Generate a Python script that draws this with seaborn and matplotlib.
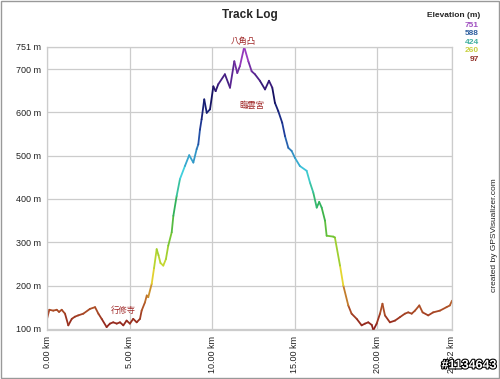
import pandas as pd
import matplotlib.pyplot as plt
import seaborn as sns
import numpy as np
import matplotlib.patheffects as pe
from matplotlib.colors import LinearSegmentedColormap

# distance along track (km) and elevation (m)
dist_km = [0.00, 0.14, 0.38, 0.59, 0.73, 0.89, 1.09, 1.29, 1.50, 1.69, 1.89, 2.20, 2.60, 2.91,
           3.11, 3.31, 3.61, 3.81, 4.01, 4.22, 4.42, 4.62, 4.82, 5.02, 5.22, 5.43, 5.63, 5.73,
           5.93, 6.04, 6.13, 6.34, 6.48, 6.64, 6.75, 6.87, 7.04, 7.20, 7.34, 7.55, 7.65, 7.85,
           8.05, 8.35, 8.61, 8.86, 9.06, 9.16, 9.26, 9.36, 9.52, 9.67, 9.87, 10.07, 10.21, 10.37,
           10.77, 11.08, 11.34, 11.52, 11.68, 11.94, 12.19, 12.39, 12.59, 12.89, 13.20, 13.44,
           13.64, 13.80, 14.00, 14.24, 14.41, 14.61, 14.81, 15.01, 15.31, 15.72, 15.92, 16.12,
           16.33, 16.48, 16.63, 16.83, 16.93, 17.33, 17.43, 17.74, 17.94, 18.24, 18.44, 18.75,
           19.05, 19.25, 19.45, 19.66, 19.76, 19.96, 20.16, 20.31, 20.46, 20.76, 21.07, 21.37,
           21.67, 21.87, 22.08, 22.28, 22.54, 22.74, 23.08, 23.38, 23.79, 24.19, 24.39, 24.52]
elev_m = [123, 144, 142, 144, 139, 144, 135, 108, 123, 128, 131, 135, 146, 150,
          135, 123, 104, 112, 115, 112, 115, 108, 119, 112, 123, 115, 123, 142,
          161, 177, 173, 204, 240, 284, 270, 252, 246, 261, 292, 323, 361, 407,
          446, 476, 501, 484, 515, 526, 560, 584, 630, 599, 607, 660, 649, 665,
          688, 657, 718, 691, 707, 751, 718, 695, 688, 673, 653, 673,
          657, 622, 603, 576, 545, 518, 511, 495, 476, 465, 438, 415,
          380, 393, 380, 350, 315, 313, 311, 246, 200, 154, 135, 123,
          108, 112, 115, 109, 97, 112, 135, 158, 131, 115, 119, 127,
          135, 138, 135, 142, 154, 138, 131, 138, 142, 150, 154, 165]

x_ticks = [0, 5, 10, 15, 20, 24.52]
x_labels = ["0.00 km", "5.00 km", "10.00 km", "15.00 km", "20.00 km", "24.52 km"]
y_ticks = [100, 200, 300, 400, 500, 600, 700, 751]
y_labels = ["100 m", "200 m", "300 m", "400 m", "500 m", "600 m", "700 m", "751 m"]
legend_vals = ["751", "588", "424", "260", "97"]
legend_cols = ["#a050c0", "#3060a0", "#40b0a0", "#c8d040", "#903028"]

cmap = LinearSegmentedColormap.from_list("elev", [
    (0.00, "#8b1a1a"), (0.10, "#b8602a"), (0.20, "#e8e030"), (0.31, "#80c830"),
    (0.43, "#30b050"), (0.56, "#40d0e0"), (0.70, "#2040a0"), (0.83, "#141060"),
    (1.00, "#b040d0")])

# one short piece per pair of points so the colour follows elevation
rows = []
for i in range(len(dist_km) - 1):
    c = (elev_m[i] + elev_m[i + 1]) / 2
    rows.append((i, dist_km[i], elev_m[i], c))
    rows.append((i, dist_km[i + 1], elev_m[i + 1], c))
df = pd.DataFrame(rows, columns=["seg", "km", "m", "c"])

sns.set_style("white")
plt.rcParams['font.family'] = ['Liberation Sans', 'Noto Sans CJK TC', 'DejaVu Sans']

fig = plt.figure(figsize=(5, 3.79), dpi=100)
ax = fig.add_axes([0.094, 0.129, 0.81, 0.747])

sns.lineplot(data=df, x="km", y="m", hue="c", units="seg", estimator=None,
             palette=cmap, hue_norm=(97, 751), legend=False, lw=1.3,
             solid_capstyle="round", ax=ax)

ax.set_xlim(0, 24.52)
ax.set_ylim(97, 751)
ax.set_xticks(x_ticks)
ax.set_xticklabels(x_labels, rotation=90, fontsize=6.5, color="#222222")
ax.set_yticks(y_ticks)
ax.set_yticklabels(y_labels, fontsize=6.5, color="#222222")
ax.tick_params(length=0, pad=4)
ax.set_xlabel("")
ax.set_ylabel("")
ax.grid(True, color="#cccccc", lw=0.9)
for s in ax.spines.values():
    s.set_color("#cccccc")
    s.set_linewidth(0.9)

fig.text(0.5, 0.975, "Track Log", ha="center", va="top", fontsize=8.5, fontweight="bold")
fig.text(0.96, 0.958, "Elevation (m)", ha="right", va="center", fontsize=6, fontweight="bold")
for k, (v, c) in enumerate(zip(legend_vals, legend_cols)):
    fig.text(0.958, 0.934 - k * 0.0225, v, ha="right", va="center", fontsize=6,
             fontweight="bold", color=c)
fig.text(0.99, 0.38, "created by GPSVisualizer.com", rotation=90, ha="center", va="center",
         fontsize=6, color="#222222")

# place names on the profile
ax.text(11.9, 753, "八角凸", ha="center", va="bottom", fontsize=6, color="#a02828")
ax.text(12.4, 615, "臨雲宮", ha="center", va="center", fontsize=6, color="#a02828")
ax.text(4.6, 142, "行修寺", ha="center", va="center", fontsize=6, color="#a02828")

# the site watermark sits over the last tick label, as in the reference
fig.text(0.994, 0.02, "#1134643", ha="right", va="bottom", fontsize=9, fontweight="bold",
         color="white", path_effects=[pe.withStroke(linewidth=1.6, foreground="black")])

fig.patches.append(plt.Rectangle((0.001, 0.003), 0.997, 0.995, transform=fig.transFigure,
                                 fill=False, edgecolor="#999999", lw=1))

fig.savefig("out.png", dpi=100)
